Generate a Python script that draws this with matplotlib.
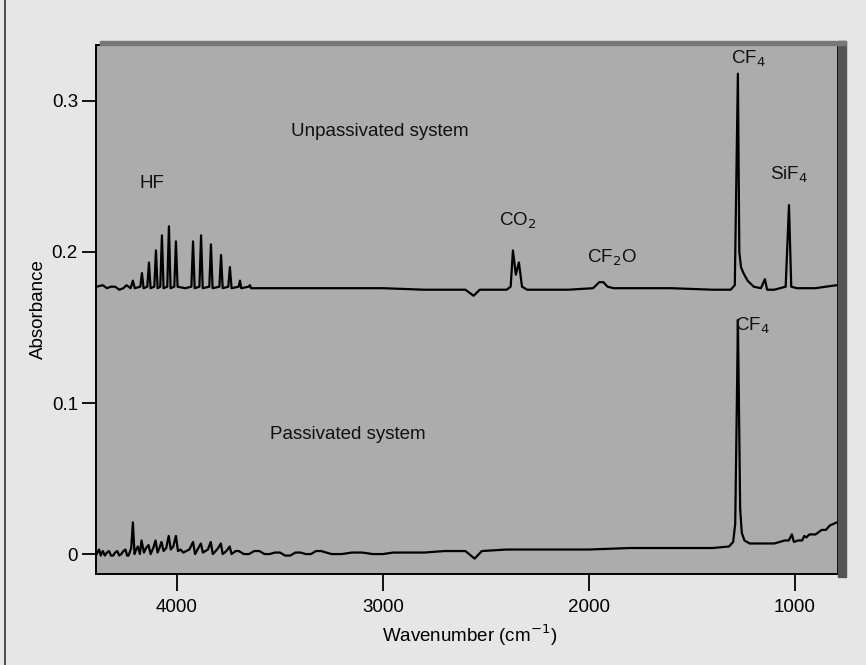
import matplotlib
matplotlib.use("Agg")
import matplotlib.pyplot as plt
from matplotlib.patches import Rectangle
from matplotlib.lines import Line2D

plt.rcParams['font.family'] = ['Liberation Sans', 'DejaVu Sans']

# unpassivated spectrum (wavenumber, absorbance)
unpass_wn = [4390, 4360, 4340, 4320, 4300, 4280, 4260, 4245, 4225, 4214, 4205, 4178, 4170, 4162,
             4144, 4136, 4128, 4110, 4102, 4094, 4081, 4073, 4065, 4047, 4039,
             4031, 4013, 4005, 3997, 3960, 3930, 3922, 3914, 3891, 3883, 3875,
             3843, 3835, 3827, 3794, 3786, 3778, 3751, 3743, 3735, 3700, 3694,
             3688, 3652, 3646, 3640, 3600, 3400, 3200, 3000, 2800, 2600, 2560,
             2530, 2400, 2380, 2369, 2355, 2340, 2325, 2300, 2100, 1980, 1950,
             1930, 1910, 1880, 1600, 1400, 1312, 1292, 1277, 1270, 1262, 1250,
             1230, 1200, 1165, 1146, 1135, 1100, 1045, 1029, 1018, 990, 900,
             850, 796]
unpass_abs = [0.177, 0.178, 0.176, 0.177, 0.177, 0.175, 0.176, 0.178, 0.176, 0.181, 0.176, 0.177, 0.186, 0.176,
              0.177, 0.193, 0.176, 0.177, 0.201, 0.176, 0.177, 0.211, 0.176, 0.177, 0.217,
              0.176, 0.177, 0.207, 0.177, 0.176, 0.177, 0.207, 0.176, 0.177, 0.211, 0.176,
              0.177, 0.205, 0.176, 0.177, 0.198, 0.176, 0.177, 0.190, 0.176, 0.177, 0.181,
              0.176, 0.177, 0.178, 0.176, 0.176, 0.176, 0.176, 0.176, 0.175, 0.175, 0.171,
              0.175, 0.175, 0.177, 0.201, 0.185, 0.193, 0.177, 0.175, 0.175, 0.176, 0.180,
              0.180, 0.177, 0.176, 0.176, 0.175, 0.175, 0.178, 0.318, 0.200, 0.190, 0.186,
              0.181, 0.177, 0.176, 0.182, 0.175, 0.175, 0.177, 0.231, 0.177, 0.176, 0.176,
              0.177, 0.178]

# passivated spectrum
pass_wn = [4390, 4378, 4370, 4360, 4350, 4340, 4330, 4320, 4310, 4300, 4290, 4280, 4270,
           4260, 4250, 4242, 4235, 4222, 4214, 4206,
           4198, 4190, 4180, 4172, 4160, 4150, 4138, 4128, 4115, 4104, 4094, 4085, 4075, 4065,
           4052, 4040, 4030, 4018, 4005,
           3995, 3982, 3970, 3955, 3940, 3922, 3912, 3900, 3884, 3874, 3862, 3850, 3836, 3826,
           3812, 3800, 3787, 3778, 3760, 3744, 3735, 3715, 3700, 3675, 3650, 3625, 3600, 3575,
           3550, 3525, 3500, 3475, 3450, 3425, 3400, 3375, 3350, 3325,
           3300, 3250, 3200, 3150, 3100, 3050, 3000, 2950, 2900, 2850, 2800, 2700, 2600, 2555,
           2520, 2400, 2300,
           2200, 2000, 1800, 1600, 1400, 1320, 1300, 1290, 1282, 1277, 1272, 1266,
           1258, 1245, 1220, 1150, 1100, 1050, 1030, 1015, 1005, 985, 965, 955,
           945, 930, 900, 870, 850, 830, 796]
pass_abs = [0.000, 0.003, -0.001, 0.002, -0.001, 0.001, 0.002, -0.001, -0.001, 0.001, 0.002,
            -0.001, 0.000, 0.002, 0.003, -0.001, -0.001, 0.004, 0.021, 0.000,
            0.003, 0.005, 0.000, 0.009, 0.001, 0.004, 0.006, 0.000, 0.004, 0.009, 0.001, 0.004,
            0.008, 0.002, 0.004, 0.012, 0.003, 0.005, 0.012,
            0.002, 0.003, 0.001, 0.002, 0.003, 0.008, 0.000, 0.003, 0.007, 0.001, 0.002, 0.003,
            0.008, 0.000, 0.002, 0.004, 0.007, 0.000, 0.002, 0.005, 0.000, 0.002, 0.002, 0.000,
            0.000, 0.002, 0.002, 0.000, 0.000, 0.001, 0.001, -0.001, -0.001, 0.001, 0.001,
            0.000, 0.000, 0.002,
            0.002, 0.000, 0.000, 0.001, 0.001, 0.000, 0.000, 0.001, 0.001, 0.001, 0.001, 0.002,
            0.002, -0.003, 0.002, 0.003, 0.003,
            0.003, 0.003, 0.004, 0.004, 0.004, 0.005, 0.008, 0.020, 0.100, 0.155, 0.100, 0.030,
            0.014, 0.009, 0.007, 0.007, 0.007, 0.009, 0.009, 0.013, 0.008, 0.009, 0.009, 0.012,
            0.011, 0.013, 0.013, 0.016, 0.016, 0.019, 0.021]

# annotations: text, wavenumber, absorbance
labels = ["Unpassivated system", "HF", "CO$_2$", "CF$_2$O", "CF$_4$", "SiF$_4$",
          "Passivated system", "CF$_4$"]
label_wn = [3015, 4121, 2345, 1888, 1228, 1029, 3170, 1205]
label_abs = [0.280, 0.245, 0.2205, 0.196, 0.328, 0.251, 0.079, 0.151]

xticks = [4000, 3000, 2000, 1000]
xticklabels = ["4000", "3000", "2000", "1000"]
yticks = [0, 0.1, 0.2, 0.3]
yticklabels = ["0", "0.1", "0.2", "0.3"]

fig = plt.figure(figsize=(8.66, 6.65), dpi=100)
fig.patch.set_facecolor('#e6e6e6')
ax = fig.add_axes([96 / 866, 1 - 574 / 665, 742 / 866, 529 / 665])
ax.set_facecolor('#acacac')

# dark shadow band on the top and right of the frame, scan edge on the left
fig.patches.append(Rectangle((838 / 866, 1 - 577 / 665), 8 / 866, 536 / 665,
                             transform=fig.transFigure, color='#555555', zorder=0))
fig.patches.append(Rectangle((100 / 866, 1 - 45 / 665), 746 / 866, 4 / 665,
                             transform=fig.transFigure, color='#777777', zorder=0))
fig.lines.append(Line2D([5 / 866, 5 / 866], [0, 1], transform=fig.transFigure,
                        color='#333333', lw=1.2))

ax.plot(unpass_wn, unpass_abs, color='black', lw=1.6)
ax.plot(pass_wn, pass_abs, color='black', lw=1.6)

for txt, xw, ya in zip(labels, label_wn, label_abs):
    ax.text(xw, ya, txt, ha='center', va='center', fontsize=13.5, color='#111111')

ax.set_xlim(4393, 791)
ax.set_ylim(-0.0132, 0.337)
ax.set_xticks(xticks)
ax.set_xticklabels(xticklabels)
ax.set_yticks(yticks)
ax.set_yticklabels(yticklabels)
ax.tick_params(axis='x', direction='out', length=12, width=1.3, pad=6, labelsize=13.5)
ax.tick_params(axis='y', direction='out', length=10, width=1.3, pad=3, labelsize=13.5)
for s in ax.spines.values():
    s.set_linewidth(1.4)

ax.set_xlabel("Wavenumber (cm$^{-1}$)", fontsize=13.5)
ax.set_ylabel("Absorbance", fontsize=13.5)
ax.xaxis.set_label_coords(0.504, -0.092)
ax.yaxis.set_label_coords(-0.066, 0.5)

fig.savefig("out.png", dpi=100, facecolor=fig.get_facecolor())
